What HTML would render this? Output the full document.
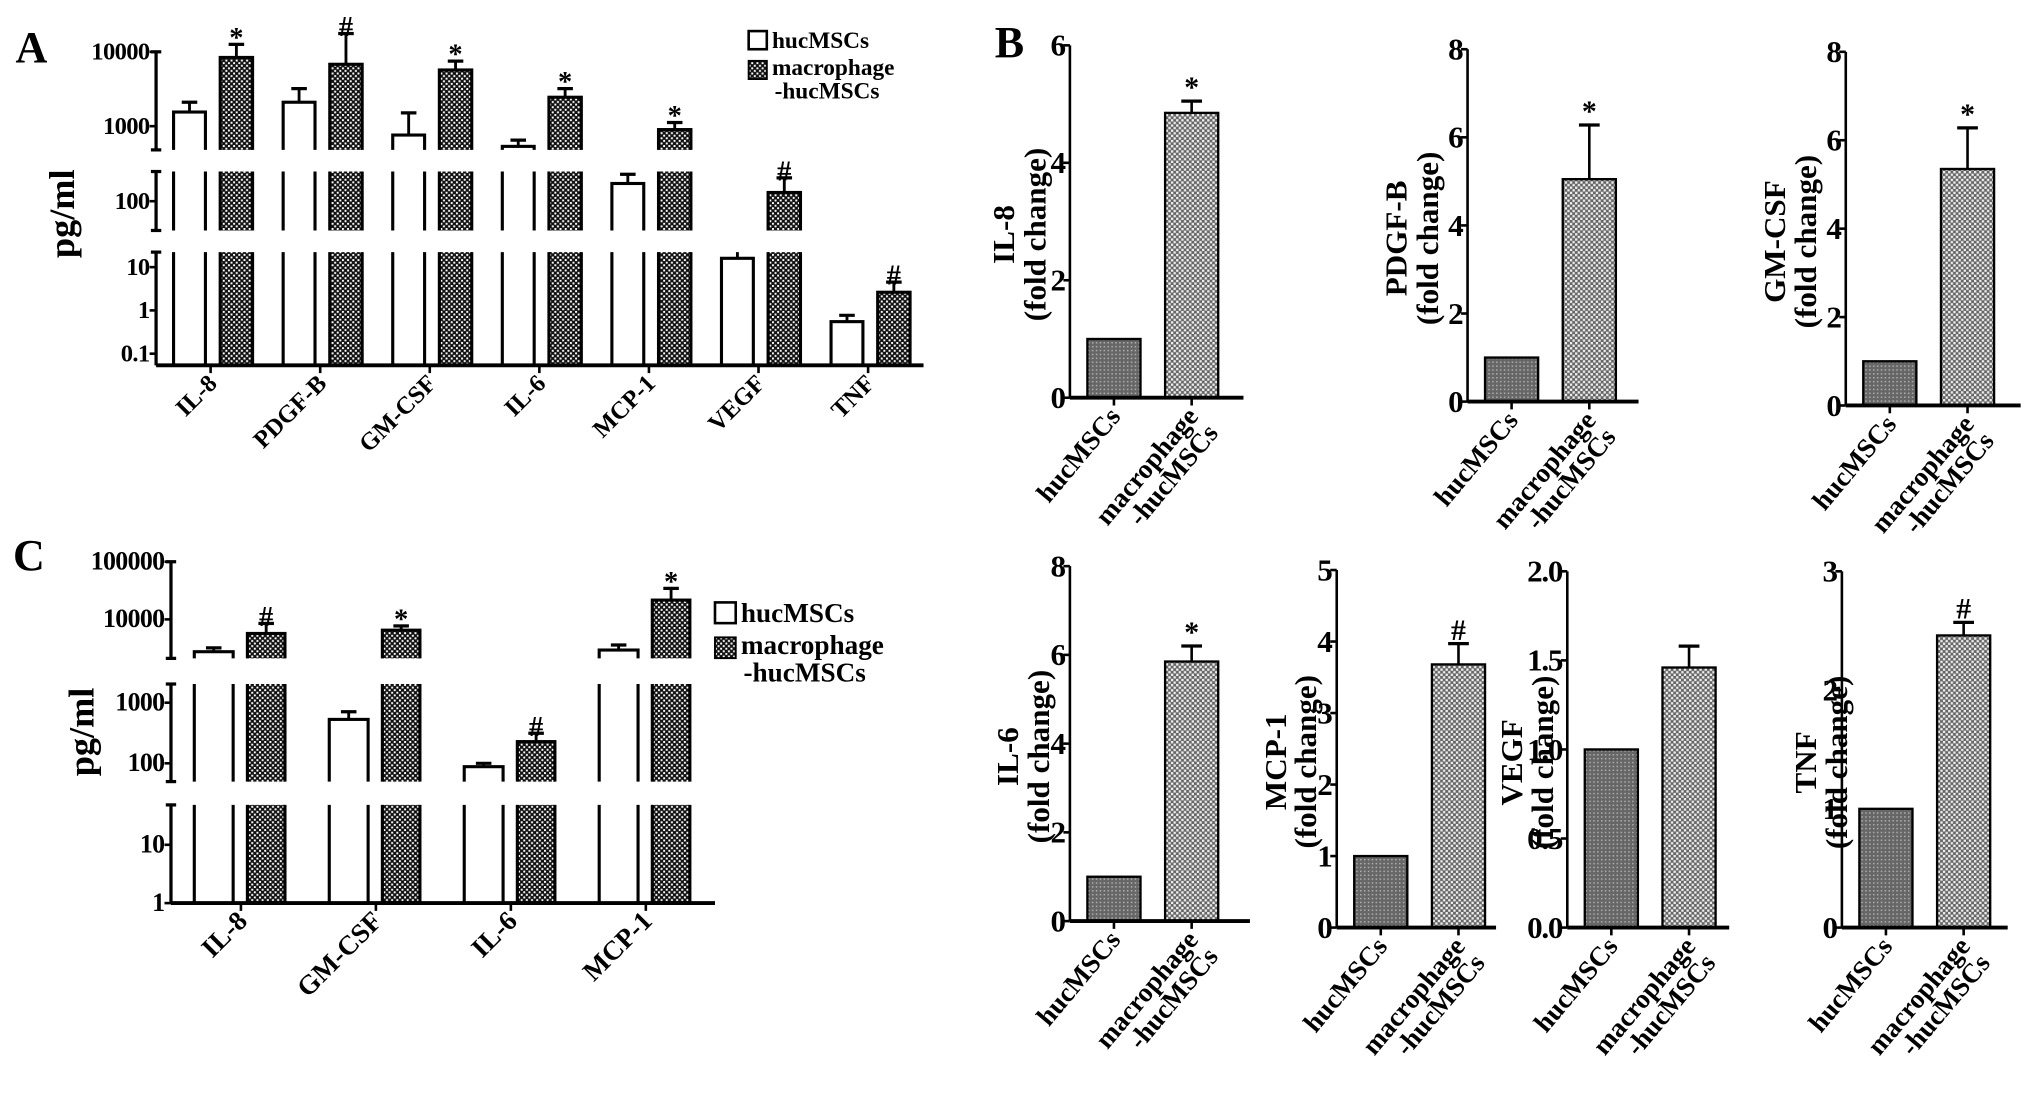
<!DOCTYPE html>
<html><head><meta charset="utf-8"><title>Cytokine secretion figure</title>
<style>
html,body{margin:0;padding:0;background:#fff;}
svg{display:block;font-family:"Liberation Serif",serif;font-weight:bold;}
</style></head>
<body>
<svg id="fig" xmlns="http://www.w3.org/2000/svg" width="2031" height="1096" viewBox="0 0 1568 846" preserveAspectRatio="none">
<defs>
<pattern id="chkDark" width="4" height="4" patternUnits="userSpaceOnUse">
<rect width="4" height="4" fill="#111"/><rect x="0" y="0" width="1.5" height="1.5" fill="#fff"/><rect x="2" y="2" width="1.5" height="1.5" fill="#fff"/>
</pattern>
<pattern id="chkLight" width="4" height="4" patternUnits="userSpaceOnUse">
<rect width="4" height="4" fill="#666"/><rect x="0" y="0" width="1.8" height="1.8" fill="#eee"/><rect x="2" y="2" width="1.8" height="1.8" fill="#eee"/>
</pattern>
<pattern id="chkGray" width="3" height="3" patternUnits="userSpaceOnUse">
<rect width="3" height="3" fill="#666"/><rect x="0" y="0" width="1.2" height="1.2" fill="#aaa"/>
</pattern>
</defs>
</svg>
<script>
// ---------- Panel A data ----------
const A_categories = ['IL-8','PDGF-B','GM-CSF','IL-6','MCP-1','VEGF','TNF'];
const A_huc = [1550, 2100, 760, 535, 173, 16, 0.55];
const A_hucErr = [2100, 3200, 1510, 650, 230, 41, 0.77];
const A_mac = [8400, 6800, 5700, 2450, 900, 131, 2.63];
const A_macErr = [12600, 17600, 7500, 3200, 1120, 206, 4.5];
const A_marks = ['*','#','*','*','*','#','#'];
const A_tickLabels = [['10000','1000'],['100'],['10','1','0.1']];
// ---------- Panel C data ----------
const C_categories = ['IL-8','GM-CSF','IL-6','MCP-1'];
const C_huc = [2750, 530, 88, 2940];
const C_hucErr = [3200, 710, 100, 3590];
const C_mac = [5700, 6500, 228, 21600];
const C_macErr = [8500, 7700, 313, 34500];
const C_marks = ['#','*','#','*'];
const C_tickLabels = [['100000','10000'],['1000','100'],['10','1']];
// ---------- Panel B data ----------
const B_titles = ['IL-8','PDGF-B','GM-CSF','IL-6','MCP-1','VEGF','TNF'];
const B_groups = ['hucMSCs','macrophage-hucMSCs'];
const B_huc = [1, 1, 1, 1, 1, 1, 1];
const B_mac = [4.85, 5.05, 5.35, 5.85, 3.68, 1.46, 2.46];
const B_macErr = [5.05, 6.28, 6.28, 6.2, 3.97, 1.58, 2.57];
const B_max = [6, 8, 8, 8, 5, 2, 3];
const B_ticks = [['0','2','4','6'],['0','2','4','6','8'],['0','2','4','6','8'],['0','2','4','6','8'],['0','1','2','3','4','5'],['0.0','0.5','1.0','1.5','2.0'],['0','1','2','3']];
const B_marks = ['*','*','*','*','#','','#'];

const svg = document.getElementById('fig');
const NS = 'http://www.w3.org/2000/svg';
function mk(tag, attrs, parent){
  const e = document.createElementNS(NS, tag);
  for (const k in attrs) e.setAttribute(k, attrs[k]);
  (parent || svg).appendChild(e);
  return e;
}
let clipId = 0;

function brokenLogPanel(cfg){
  const g = mk('g', {});
  
  
  const segs = cfg.segs;
  function segOf(v){
    const lv = Math.log10(v);
    for (const s of segs){ const y = s.refY - (lv - Math.log10(s.ref))*s.dec; if (y >= s.top - 40 && y <= s.bot + 0.5) return s; }
    return segs[segs.length-1];
  }
  function yIn(s, v){ return s.refY - (Math.log10(v) - Math.log10(s.ref))*s.dec; }
  segs.forEach((s, si) => {
    const ax = mk('line', {x1:cfg.axX, x2:cfg.axX, y1:s.top, y2:s.bot, stroke:'#000', 'stroke-width':2.5}, g);
    
    
    [s.top, s.bot].forEach(yy => { if (!(si === segs.length-1 && yy === s.bot)) mk('line', {x1:cfg.axX-4, x2:cfg.axX+4, y1:yy, y2:yy, stroke:'#000','stroke-width':2.5}, g); });
    s.ticks.forEach((tv, ti) => {
      const yy = yIn(s, tv);
      mk('line', {x1:cfg.axX-5, x2:cfg.axX, y1:yy, y2:yy, stroke:'#000','stroke-width':2}, g);
      const t = mk('text', {x:cfg.axX-5, y:yy+6, 'text-anchor':'end', 'font-size':cfg.tickFs, 'letter-spacing':'-0.5'}, g);
      t.textContent = cfg.tickLabels[si][ti];
      
      
    });
    const id = 'clp' + (clipId++);
    const cp = mk('clipPath', {id:id}, svg.querySelector('defs'));
    const ctop = si === 0 ? 0 : s.top;
    mk('rect', {x:0, y:ctop, width:1568, height:s.bot - ctop}, cp);
    s.g = mk('g', {'clip-path':'url(#'+id+')'}, g);
  });
  const base = segs[segs.length-1].bot;
  const xa = mk('line', {x1:cfg.axX, x2:cfg.axEnd, y1:base, y2:base, stroke:'#000','stroke-width':3}, g);
  
  
  cfg.cats.forEach((c, i) => {
    const tx = cfg.tick0 + i*cfg.step;
    mk('line', {x1:tx, x2:tx, y1:base, y2:base+6, stroke:'#000','stroke-width':2}, g);
    const lab = mk('text', {x:0, y:0, 'text-anchor':'end', 'font-size':cfg.catFs, transform:'translate('+(tx+6)+','+(base+15)+') rotate(-45)'}, g);
    lab.textContent = c;
    
    
    const series = [[cfg.huc[i], cfg.hucErr[i], tx+cfg.wOff, cfg.wW, '#fff', null], [cfg.mac[i], cfg.macErr[i], tx+cfg.pOff, cfg.pW, 'url(#chkDark)', cfg.marks[i]]];
    series.forEach((sr, k) => {
      const [v, ev, x0, w, fill, mark] = sr;
      segs.forEach(s => {
        const yv = Math.max(yIn(s, v), -50);
        if (yv > s.bot) return;
        const r = mk('rect', {x:x0, y:yv, width:w, height:(s.bot + 10 - yv), fill:fill, stroke:'#000','stroke-width':2.4}, s.g);
        
        
        const ye = yIn(s, ev);
        mk('line', {x1:x0+w/2, x2:x0+w/2, y1:yv, y2:ye, stroke:'#000','stroke-width':2.2}, s.g);
        mk('line', {x1:x0+w/2-6, x2:x0+w/2+6, y1:ye, y2:ye, stroke:'#000','stroke-width':2.5}, s.g);
      });
      if (mark){
        const s = segOf(ev);
        const ye = yIn(s, ev);
        const m = mk('text', {x:x0+w/2, y:ye+2, 'text-anchor':'middle', 'font-size':22}, g);
        m.textContent = mark;
        
        
      }
    });
  });
}

brokenLogPanel({name:'panel-a-chart', axX:120.5, axEnd:713, tick0:162.6, step:84.6, wOff:-28.6, wW:24.6, pOff:7.4, pW:25,
  tickFs:19, catFs:19, cats:A_categories, huc:A_huc, hucErr:A_hucErr, mac:A_mac, macErr:A_macErr, marks:A_marks, tickLabels:A_tickLabels,
  segs:[{ref:10000, refY:40, dec:57.4, top:40, bot:115.7, ticks:[10000,1000]},
        {ref:100, refY:155.3, dec:57.4, top:132.4, bot:177.9, ticks:[100]},
        {ref:10, refY:206.2, dec:33.4, top:194.6, bot:282, ticks:[10,1,0.1]}]});
brokenLogPanel({name:'panel-c-chart', axX:132, axEnd:552, tick0:186, step:104.2, wOff:-36, wW:30, pOff:5, pW:29,
  tickFs:20, catFs:21, cats:C_categories, huc:C_huc, hucErr:C_hucErr, mac:C_mac, macErr:C_macErr, marks:C_marks, tickLabels:C_tickLabels,
  segs:[{ref:10000, refY:478.1, dec:44.5, top:433.6, bot:508.2, ticks:[100000,10000]},
        {ref:1000, refY:542.4, dec:46.8, top:528, bot:603.3, ticks:[1000,100]},
        {ref:10, refY:652.1, dec:45, top:621.3, bot:697.1, ticks:[10,1]}]});

function txt(x, y, s, fs, name, extra){
  const a = {x:x, y:y, 'font-size':fs};
  for (const k in (extra||{})) a[k] = extra[k];
  const t = mk('text', a);
  t.textContent = s;
  
  
  return t;
}
txt(12, 48, 'A', 34, 'panel-label-a');
txt(768, 44, 'B', 34, 'panel-label-b');
txt(10, 440, 'C', 34, 'panel-label-c');
txt(0, 0, 'pg/ml', 28, 'y-axis-title-a', {transform:'translate(57,165) rotate(-90)', 'text-anchor':'middle'});
txt(0, 0, 'pg/ml', 28, 'y-axis-title-c', {transform:'translate(72,565) rotate(-90)', 'text-anchor':'middle'});

function legend(x, y, fs, box, gap, name){
  const g = mk('g', {});
  
  
  const r1 = mk('rect', {x:x, y:y, width:box, height:box, fill:'#fff', stroke:'#000', 'stroke-width':2}, g);
  
  
  const t1 = mk('text', {x:x+box+4, y:y+box-1, 'font-size':fs}, g); t1.textContent = 'hucMSCs';
  
  
  const r2 = mk('rect', {x:x, y:y+gap, width:box, height:box, fill:'url(#chkDark)', stroke:'#000', 'stroke-width':1.5}, g);
  
  
  const t2 = mk('text', {x:x+box+4, y:y+gap+box-3, 'font-size':fs}, g);
  
  
  const s1 = mk('tspan', {x:x+box+4}, t2); s1.textContent = 'macrophage';
  const s2 = mk('tspan', {x:x+box+6, dy:fs}, t2); s2.textContent = '-hucMSCs';
}
legend(578, 24, 18, 14, 23, 'legend-a');
legend(552, 465, 21, 16, 27, 'legend-c');

const B_layout = [
  {ax:826, top:35, base:307, end:960, tx1:775, tx2:797},
  {ax:1133, top:38, base:310, end:1265, tx1:1078, tx2:1100},
  {ax:1425, top:40, base:313, end:1560, tx1:1370, tx2:1392},
  {ax:826, top:437, base:711, end:965, tx1:778, tx2:800},
  {ax:1032, top:440, base:716, end:1155, tx1:985, tx2:1006},
  {ax:1210, top:441, base:716, end:1335, tx1:1167, tx2:1189},
  {ax:1422, top:441, base:716, end:1550, tx1:1394, tx2:1416}
];
B_titles.forEach((title, i) => {
  const L = B_layout[i];
  const g = mk('g', {});
  
  
  const y = v => L.base - v / B_max[i] * (L.base - L.top);
  const c1 = L.ax + 34, c2 = L.ax + 94, bw = 41;
  const b1 = mk('rect', {x:c1-bw/2, y:y(B_huc[i]), width:bw, height:L.base - y(B_huc[i]), fill:'url(#chkGray)', stroke:'#000','stroke-width':1.8}, g);
  
  
  const b2 = mk('rect', {x:c2-bw/2, y:y(B_mac[i]), width:bw, height:L.base - y(B_mac[i]), fill:'url(#chkLight)', stroke:'#000','stroke-width':1.8}, g);
  
  
  const ye = y(B_macErr[i]);
  mk('line', {x1:c2, x2:c2, y1:y(B_mac[i]), y2:ye, stroke:'#000','stroke-width':2}, g);
  mk('line', {x1:c2-8, x2:c2+8, y1:ye, y2:ye, stroke:'#000','stroke-width':2.5}, g);
  if (B_marks[i]){
    const m = mk('text', {x:c2, y:ye-3, 'text-anchor':'middle', 'font-size':23}, g);
    m.textContent = B_marks[i];
    
    
  }
  const ya = mk('line', {x1:L.ax, x2:L.ax, y1:L.top, y2:L.base, stroke:'#000','stroke-width':2}, g);
  
  
  const xa = mk('line', {x1:L.ax, x2:L.end, y1:L.base, y2:L.base, stroke:'#000','stroke-width':3}, g);
  
  
  B_ticks[i].forEach(tl => {
    const yy = y(parseFloat(tl));
    mk('line', {x1:L.ax-5, x2:L.ax, y1:yy, y2:yy, stroke:'#000','stroke-width':2}, g);
    const t = mk('text', {x:L.ax-4, y:yy+8, 'text-anchor':'end', 'font-size':24, 'letter-spacing':'-1'}, g);
    t.textContent = tl;
    
    
  });
  [c1, c2].forEach(cx => mk('line', {x1:cx, x2:cx, y1:L.base, y2:L.base+6, stroke:'#000','stroke-width':2}, g));
  const midY = (L.top + L.base) / 2 + 10;
  const t1 = mk('text', {x:0, y:0, 'text-anchor':'middle', 'font-size':24, transform:'translate('+(L.tx1+8)+','+midY+') rotate(-90)'}, g);
  t1.textContent = title;
  
  
  const t2 = mk('text', {x:0, y:0, 'text-anchor':'middle', 'font-size':24, transform:'translate('+(L.tx2+10)+','+midY+') rotate(-90)'}, g);
  t2.textContent = '(fold change)';
  
  
  const l1 = mk('text', {x:0, y:0, 'text-anchor':'end', 'font-size':21, transform:'translate('+(c1+6)+','+(L.base+15)+') rotate(-50)'}, g);
  l1.textContent = B_groups[0];
  
  
  const l2 = mk('text', {x:0, y:0, 'text-anchor':'end', 'font-size':21, transform:'translate('+(c2+6)+','+(L.base+15)+') rotate(-50)'}, g);
  
  
  const sp1 = mk('tspan', {x:0, y:0}, l2); sp1.textContent = 'macrophage';
  const sp2 = mk('tspan', {x:0, y:20}, l2); sp2.textContent = '-hucMSCs';
});
</script>
</body></html>
